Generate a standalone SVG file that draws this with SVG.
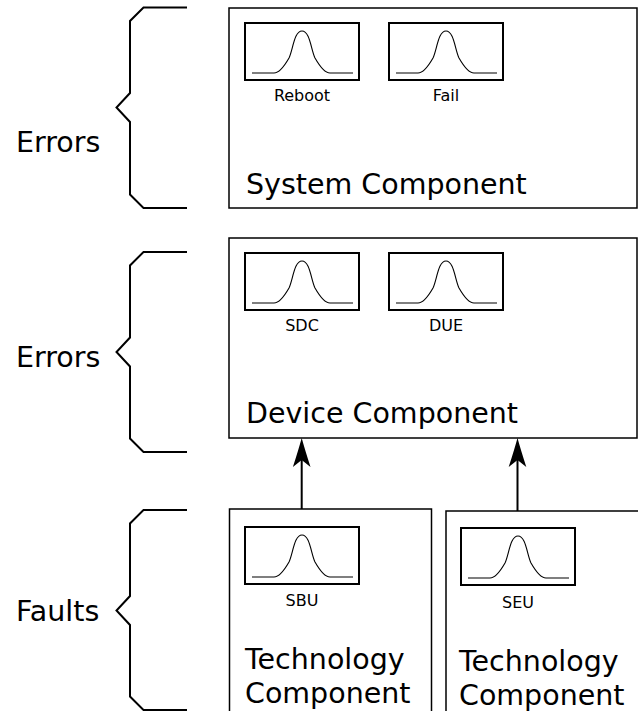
<svg xmlns="http://www.w3.org/2000/svg" xmlns:xlink="http://www.w3.org/1999/xlink" width="638" height="711" viewBox="0 0 638 711">
<style>
  .box { fill: #fff; stroke: #000; stroke-width: 1.5; }
  .pbox { fill: #fff; stroke: #000; stroke-width: 2; }
  .curve { fill: none; stroke: #000; stroke-width: 1.1; }
  .brace { fill: none; stroke: #000; stroke-width: 2; }
  .big { font-family: "DejaVu Sans", sans-serif; font-size: 28.5px; fill: #000; }
  .small { font-family: "DejaVu Sans", sans-serif; font-size: 16px; fill: #000; text-anchor: middle; }
  .conn { stroke: #000; stroke-width: 2; fill: none; }
</style>
<defs>
  <g id="plot">
    <rect class="pbox" x="1" y="1" width="114" height="57"/>
    <path class="curve" d="M8,51 H30 C36,51 41,43 45,36 C49,28 50,9 58,9 C66,9 67,28 71,36 C75,43 80,51 86,51 H109"/>
  </g>
  <marker id="head" markerUnits="userSpaceOnUse" orient="auto" markerWidth="40" markerHeight="24" viewBox="-20 -12 40 24" refX="-12" refY="0" overflow="visible">
    <path d="M0,0 Q-11,-3 -29,-8.8 L-22,0 L-29,8.8 Q-11,3 0,0 Z" fill="#000"/>
  </marker>
</defs>
<rect width="638" height="711" fill="#fff"/>

<g id="brace-errors-1">
  <path class="brace" d="M187,7.5 H143.5 L130,21 V93 L116.5,107.5 L130,122 V194.5 L143.5,208 H187"/>
  <text class="big" x="16" y="152">Errors</text>
</g>
<g id="brace-errors-2">
  <path class="brace" d="M187,252 H143.5 L130,265.5 V337.5 L116.5,352 L130,366.5 V438.5 L143.5,452 H187"/>
  <text class="big" x="16" y="367">Errors</text>
</g>
<g id="brace-faults">
  <path class="brace" d="M187,510 H143.5 L130,523.5 V596 L116.5,610.5 L130,625 V696.5 L143.5,710 H187"/>
  <text class="big" x="16" y="621">Faults</text>
</g>

<g id="system-component">
  <rect class="box" x="229" y="8" width="408" height="200"/>
  <use xlink:href="#plot" x="244" y="22"/>
  <text class="small" x="302" y="101">Reboot</text>
  <use xlink:href="#plot" x="388" y="22"/>
  <text class="small" x="446" y="101">Fail</text>
  <text class="big" x="246" y="194">System Component</text>
</g>

<g id="device-component">
  <rect class="box" x="229" y="238" width="408" height="200"/>
  <use xlink:href="#plot" x="244" y="252"/>
  <text class="small" x="302" y="331">SDC</text>
  <use xlink:href="#plot" x="388" y="252"/>
  <text class="small" x="446" y="331">DUE</text>
  <text class="big" x="246" y="423">Device Component</text>
</g>

<g id="technology-component-1">
  <rect class="box" x="229.5" y="509" width="202" height="210"/>
  <use xlink:href="#plot" x="244" y="526"/>
  <text class="small" x="302" y="606">SBU</text>
  <text class="big" x="245" y="669">Technology</text>
  <text class="big" x="245" y="703">Component</text>
</g>

<g id="technology-component-2">
  <rect class="box" x="446" y="511" width="200" height="210"/>
  <use xlink:href="#plot" x="460" y="527"/>
  <text class="small" x="518" y="608">SEU</text>
  <text class="big" x="459" y="671">Technology</text>
  <text class="big" x="459" y="705">Component</text>
</g>

<g id="connectors">
  <line class="conn" x1="301.7" y1="509" x2="301.7" y2="450" marker-end="url(#head)"/>
  <line class="conn" x1="517.5" y1="511" x2="517.5" y2="450" marker-end="url(#head)"/>
</g>
</svg>
